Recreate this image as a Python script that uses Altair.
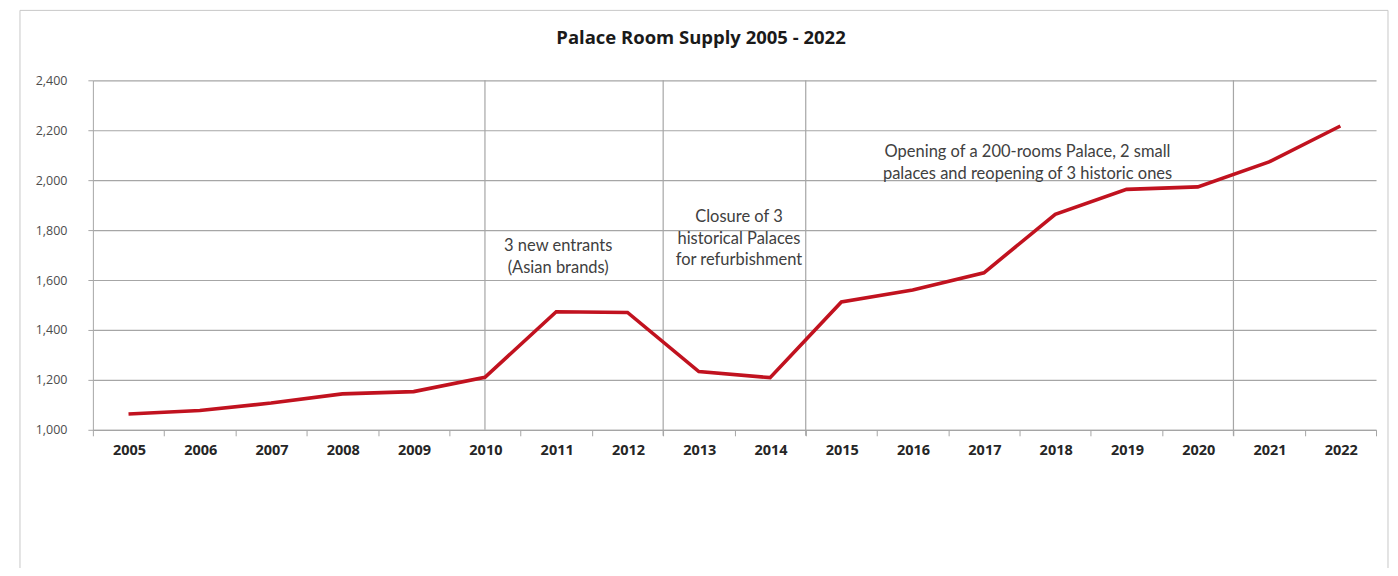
import altair as alt
import pandas as pd

years = list(range(2005, 2023))
rooms = [1063, 1077, 1107, 1144, 1153, 1210, 1473, 1470, 1233, 1209,
         1512, 1560, 1629, 1863, 1963, 1973, 2073, 2217]

y_ticks = [1000, 1200, 1400, 1600, 1800, 2000, 2200, 2400]
mid_rule_years = [2010]
edge_rule_years = [2013, 2015, 2021]

title_text = "Palace Room Supply 2005 - 2022"
note_entrants = ["3 new entrants", "(Asian brands)"]
note_closure = ["Closure of 3", "historical Palaces", "for refurbishment"]
note_opening = ["Opening of a 200-rooms Palace, 2 small",
                "palaces and reopening of 3 historic ones"]

df = pd.DataFrame({"year": years, "rooms": rooms})
one = pd.DataFrame({"k": [0]})

GRID = "#a6a6a6"
W, H = 1285, 350

xscale = alt.Scale(type="band", paddingInner=0, paddingOuter=0, domain=years)

frame = alt.Chart(one).mark_rect(fillOpacity=0, stroke="#c8c8c8", strokeWidth=1).encode(
    x=alt.value(-73), x2=alt.value(1297), y=alt.value(-70), y2=alt.value(520)
)

title = alt.Chart(one).mark_text(
    text=title_text, font="Open Sans", fontSize=18.5, fontWeight="bold",
    color="#1a1a1a", align="center", baseline="alphabetic"
).encode(x=alt.value(609), y=alt.value(-36))

line = alt.Chart(df).mark_line(color="#c1121f", strokeWidth=3.6).encode(
    x=alt.X("year:O", scale=xscale, bandPosition=0.5,
            axis=alt.Axis(title=None, labelAngle=0, labelFont="Open Sans",
                          labelFontSize=14.5, labelFontWeight="bold",
                          labelColor="#262626", tickBand="extent", tickSize=6,
                          tickColor=GRID, domainColor=GRID, grid=False,
                          labelPadding=15, labelOffset=17)),
    y=alt.Y("rooms:Q", scale=alt.Scale(domain=[1000, 2400], nice=False, zero=False),
            axis=alt.Axis(title=None, values=y_ticks, format=",.0f",
                          labelFont="Open Sans", labelFontSize=12.5,
                          labelColor="#4d4d4d", grid=True, gridColor=GRID,
                          gridWidth=1.2, tickSize=5, tickColor=GRID,
                          domainColor=GRID, labelPadding=21)),
)

rule_mid = alt.Chart(pd.DataFrame({"year": mid_rule_years})).mark_rule(
    color=GRID, strokeWidth=1.2).encode(
    x=alt.X("year:O", scale=xscale, bandPosition=0.5), y=alt.value(0), y2=alt.value(H)
)
rule_edge = alt.Chart(pd.DataFrame({"year": edge_rule_years})).mark_rule(
    color=GRID, strokeWidth=1.2).encode(
    x=alt.X("year:O", scale=xscale, bandPosition=0), y=alt.value(0), y2=alt.value(H + 6)
)

def note(lines, x, y):
    return alt.Chart(one).mark_text(
        text=lines, font="Lato", fontSize=16.5, color="#404040",
        align="center", baseline="alphabetic", lineHeight=21.7
    ).encode(x=alt.value(x), y=alt.value(y))

chart = alt.layer(
    frame, title, rule_mid, rule_edge, line,
    note(note_entrants, 466, 171),
    note(note_closure, 647, 142),
    note(note_opening, 936, 77),
).properties(
    width=W, height=H,
    autosize=alt.AutoSizeParams(type="none"),
    padding={"left": 85, "top": 72, "right": 14, "bottom": 138},
).configure_view(stroke=None)

chart.save("out.html", embed_options={"renderer": "svg", "actions": False})
